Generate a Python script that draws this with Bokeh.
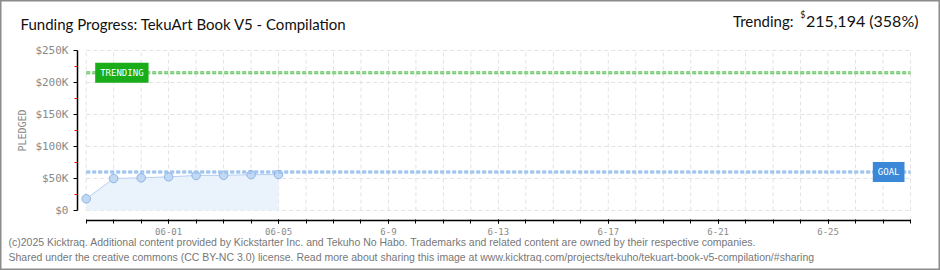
import datetime as dt
from bokeh.plotting import figure
from bokeh.models import Range1d, FixedTicker, Label
from bokeh.embed import file_html
from bokeh.resources import INLINE

# ---- data ----
dates = ["2025-05-29", "2025-05-30", "2025-05-31", "2025-06-01",
         "2025-06-02", "2025-06-03", "2025-06-04", "2025-06-05"]
pledged = [18300, 50000, 51000, 52600, 54700, 55000, 56000, 56200]
goal = 60110
trending = 215194
trending_pct = 358
x_start = "2025-05-29"
x_end = "2025-06-28"
x_label_dates = ["2025-06-01", "2025-06-05", "2025-06-09", "2025-06-13",
                 "2025-06-17", "2025-06-21", "2025-06-25"]
x_tick_labels = ["06-01", "06-05", "6-9", "6-13", "6-17", "6-21", "6-25"]
y_ticks = [0, 50000, 100000, 150000, 200000, 250000]
y_minor_ticks = [25000, 75000, 125000, 175000, 225000]
y_tick_labels = ["$0", "$50K", "$100K", "$150K", "$200K", "$250K"]

title_text = "Funding Progress: TekuArt Book V5 - Compilation"
footer1 = ("(c)2025 Kicktraq. Additional content provided by Kickstarter Inc. and Tekuho No Habo. "
           "Trademarks and related content are owned by their respective companies.")
footer2 = ("Shared under the creative commons (CC BY-NC 3.0) license. Read more about sharing this image at "
           "www.kicktraq.com/projects/tekuho/tekuart-book-v5-compilation/#sharing")

DAY = 86400000.0


def to_dt(s):
    return dt.datetime.strptime(s, "%Y-%m-%d")


def to_ms(d):
    return (d - dt.datetime(1970, 1, 1)).total_seconds() * 1000.0


xd = [to_dt(s) for s in dates]
x0 = to_dt(x_start)
x1 = to_dt(x_end)
ndays = (x1 - x0).days
all_days = [x0 + dt.timedelta(days=i) for i in range(ndays + 1)]
label_days = [to_dt(s) for s in x_label_dates]

FONT = "Lato"
MONO = "DejaVu Sans Mono"
FOOT = "Liberation Sans"

# frame covers the whole canvas; axes are placed at fixed locations inside it
p = figure(width=940, height=270, x_axis_type="datetime",
           output_backend="svg", toolbar_location=None,
           min_border_left=0, min_border_right=0,
           min_border_top=0, min_border_bottom=0)
p.x_range = Range1d(to_ms(x0) - 3.119 * DAY, to_ms(x1) + 1.092 * DAY)
p.y_range = Range1d(-93750, 328125)
p.outline_line_color = "#8c8c8c"
p.outline_line_width = 2
p.background_fill_color = "white"
p.border_fill_color = "white"
p.xgrid.visible = False
p.ygrid.visible = False

# grid limited to the plotting area
p.segment(x0=all_days, y0=[y_ticks[0]] * len(all_days),
          x1=all_days, y1=[y_ticks[-1]] * len(all_days),
          line_color="#e2e2e2", line_dash="4 3", line_width=1)
p.segment(x0=[x0] * len(y_ticks), y0=y_ticks, x1=[x1] * len(y_ticks), y1=y_ticks,
          line_color="#e2e2e2", line_dash="4 3", line_width=1)

# x axis
xa = p.xaxis[0]
xa.fixed_location = -15625
xa.ticker = FixedTicker(ticks=[to_ms(d) for d in label_days],
                        minor_ticks=[to_ms(d) for d in all_days])
xa.major_label_overrides = {to_ms(d): t for d, t in zip(label_days, x_tick_labels)}
xa.bounds = (x0, x1)
xa.axis_line_color = "black"
xa.axis_line_width = 1.5
xa.major_tick_line_color = "black"
xa.minor_tick_line_color = "black"
xa.major_tick_in = 1
xa.major_tick_out = 3
xa.minor_tick_in = 1
xa.minor_tick_out = 3
xa.major_label_standoff = 4
xa.major_label_text_font = MONO
xa.major_label_text_font_size = "9px"
xa.major_label_text_color = "#8a8a8a"

# y axis
ya = p.yaxis[0]
ya.fixed_location = to_ms(x0) - 0.3166 * DAY
ya.ticker = FixedTicker(ticks=y_ticks, minor_ticks=y_minor_ticks)
ya.major_label_overrides = {t: l for t, l in zip(y_ticks, y_tick_labels)}
ya.bounds = (0, 250000)
ya.axis_line_color = "black"
ya.axis_line_width = 1.5
ya.major_tick_line_color = "black"
ya.major_tick_in = 0
ya.major_tick_out = 4
ya.minor_tick_line_color = "red"
ya.minor_tick_in = 0
ya.minor_tick_out = 3
ya.major_label_standoff = 5
ya.major_label_text_font = MONO
ya.major_label_text_font_size = "11px"
ya.major_label_text_color = "#8a8a8a"
ya.axis_label = "PLEDGED"
ya.axis_label_text_font = MONO
ya.axis_label_text_font_size = "10px"
ya.axis_label_text_font_style = "normal"
ya.axis_label_text_color = "#8a8a8a"
ya.axis_label_standoff = 4

# data area, line, points
p.varea(x=xd, y1=[0] * len(xd), y2=pledged, fill_color="#eaf2fc")
p.line(x=xd, y=pledged, line_color="#b4cff2", line_width=1)
p.scatter(x=xd, y=pledged, size=8.5, fill_color="#c2d9f5", line_color="#8fb3e0", line_width=1)

# trending & goal lines
p.segment(x0=[x0], y0=[trending], x1=[x1], y1=[trending],
          line_color="#62c462", line_width=3, line_dash="4 2")
p.segment(x0=[x0], y0=[trending], x1=[x1], y1=[trending],
          line_color="#a9e2a9", line_width=1, line_dash="4 2")
p.segment(x0=[x0], y0=[goal], x1=[x1], y1=[goal],
          line_color="#86b3e8", line_width=3, line_dash="4 2")
p.segment(x0=[x0], y0=[goal], x1=[x1], y1=[goal],
          line_color="#bfd8f6", line_width=1, line_dash="4 2")

p.add_layout(Label(x=x0, y=trending, x_offset=9, text="TRENDING",
                   text_font=MONO, text_font_size="9px", text_color="white",
                   text_baseline="middle", text_align="left",
                   background_fill_color="#19ad19", padding=5))
p.add_layout(Label(x=x1, y=goal, x_offset=-6, text="GOAL",
                   text_font=MONO, text_font_size="9px", text_color="white",
                   text_baseline="middle", text_align="right",
                   background_fill_color="#3b88d8", padding=5))

# header texts (screen units, origin = bottom-left of canvas)
p.add_layout(Label(x=20, y=247, x_units="screen", y_units="screen", text=title_text,
                   text_font=FONT, text_font_size="15px", text_color="#111111",
                   text_baseline="alphabetic"))
p.add_layout(Label(x=918, y=250, x_units="screen", y_units="screen",
                   text=f"{trending:,} ({trending_pct}%)",
                   text_font=FONT, text_font_size="16px", text_color="#111111",
                   text_align="right", text_baseline="alphabetic"))
p.add_layout(Label(x=805, y=256, x_units="screen", y_units="screen", text="$",
                   text_font=FONT, text_font_size="9px", text_color="#111111",
                   text_align="right", text_baseline="alphabetic"))
p.add_layout(Label(x=793, y=250, x_units="screen", y_units="screen", text="Trending:",
                   text_font=FONT, text_font_size="15px", text_color="#111111",
                   text_align="right", text_baseline="alphabetic"))

# footer
p.add_layout(Label(x=8, y=29, x_units="screen", y_units="screen", text=footer1,
                   text_font=FOOT, text_font_size="10.5px", text_color="#777777",
                   text_baseline="alphabetic"))
p.add_layout(Label(x=8, y=14, x_units="screen", y_units="screen", text=footer2,
                   text_font=FOOT, text_font_size="10.5px", text_color="#777777",
                   text_baseline="alphabetic"))

open("out.html", "w").write(file_html(p, INLINE))
